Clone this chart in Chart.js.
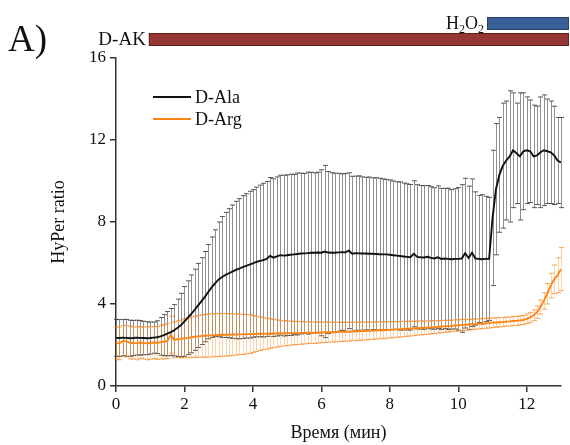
<!DOCTYPE html>
<html>
<head>
<meta charset="utf-8">
<script src="https://cdn.jsdelivr.net/npm/chart.js@4.4.1/dist/chart.umd.min.js"></script>
<style>
  html, body { margin: 0; padding: 0; background: #fff; }
  #wrap { width: 570px; height: 445px; }
</style>
</head>
<body>
<div id="wrap"><canvas id="chart" width="570" height="445"></canvas></div>
<script>
// sampling every 0.1 min, 0 .. 13 min
const sampleStep = 0.1;

const seriesNames = ["D-Ala", "D-Arg"];

const alaMean = [
  2.35, 2.34, 2.36, 2.35, 2.33, 2.34, 2.36, 2.35, 2.34, 2.33,
  2.34, 2.36, 2.38, 2.42, 2.48, 2.55, 2.63, 2.72, 2.84, 2.97,
  3.15, 3.33, 3.52, 3.72, 3.93, 4.14, 4.36, 4.60, 4.82, 5.02,
  5.20, 5.32, 5.42, 5.50, 5.58, 5.66, 5.72, 5.80, 5.86, 5.92,
  5.98, 6.05, 6.10, 6.14, 6.20, 6.35, 6.26, 6.32, 6.38, 6.36,
  6.38, 6.40, 6.42, 6.44, 6.46, 6.47, 6.48, 6.50, 6.50, 6.51,
  6.50, 6.56, 6.51, 6.50, 6.50, 6.52, 6.53, 6.52, 6.60, 6.45,
  6.48, 6.47, 6.46, 6.46, 6.45, 6.45, 6.44, 6.43, 6.42, 6.42,
  6.40, 6.38, 6.36, 6.34, 6.32, 6.30, 6.28, 6.45, 6.30, 6.28,
  6.27, 6.30, 6.25, 6.22, 6.28, 6.20, 6.22, 6.20, 6.18, 6.20,
  6.20, 6.22, 6.48, 6.25, 6.50, 6.22, 6.20, 6.18, 6.20, 6.20,
  8.20, 9.60, 10.30, 10.75, 11.00, 11.20, 11.50, 11.35, 11.20, 11.45,
  11.50, 11.45, 11.20, 11.25, 11.40, 11.50, 11.45, 11.40, 11.25, 11.00, 10.90
];

const alaErr = [
  0.90, 0.90, 0.88, 0.90, 0.88, 0.86, 0.85, 0.84, 0.82, 0.80,
  0.78, 0.76, 0.80, 0.92, 1.00, 1.08, 1.15, 1.25, 1.40, 1.55,
  1.70, 1.80, 1.90, 1.98, 2.05, 2.12, 2.20, 2.30, 2.45, 2.60,
  2.80, 2.95, 3.05, 3.15, 3.25, 3.35, 3.42, 3.48, 3.52, 3.58,
  3.60, 3.65, 3.70, 3.75, 3.78, 3.82, 3.85, 3.88, 3.90, 3.92,
  3.92, 3.93, 3.90, 3.95, 3.92, 3.90, 3.95, 3.92, 3.90, 3.92,
  4.05, 4.20, 3.95, 3.90, 3.88, 3.85, 3.82, 3.85, 3.80, 3.78,
  3.76, 3.78, 3.74, 3.72, 3.74, 3.70, 3.72, 3.70, 3.68, 3.66,
  3.65, 3.62, 3.60, 3.62, 3.58, 3.56, 3.55, 3.56, 3.52, 3.50,
  3.50, 3.48, 3.47, 3.45, 3.48, 3.44, 3.42, 3.45, 3.40, 3.42,
  3.48, 3.60, 3.65, 3.50, 3.60, 3.25, 3.10, 3.15, 3.05, 3.00,
  3.30, 3.20, 2.80, 3.05, 2.90, 3.20, 2.80, 2.45, 3.10, 2.85,
  2.60, 2.50, 2.50, 2.40, 2.70, 2.70, 2.55, 2.50, 2.40, 2.10, 2.20
];

const argMean = [
  2.10, 2.08, 2.20, 2.18, 2.12, 2.10, 2.08, 2.12, 2.10, 2.08,
  2.10, 2.12, 2.10, 2.14, 2.16, 2.20, 2.50, 2.25, 2.28, 2.30,
  2.33, 2.35, 2.38, 2.40, 2.42, 2.44, 2.45, 2.46, 2.47, 2.48,
  2.49, 2.50, 2.50, 2.50, 2.51, 2.51, 2.52, 2.52, 2.53, 2.53,
  2.54, 2.54, 2.55, 2.55, 2.55, 2.56, 2.56, 2.56, 2.57, 2.57,
  2.57, 2.58, 2.58, 2.58, 2.59, 2.59, 2.60, 2.60, 2.60, 2.61,
  2.61, 2.62, 2.62, 2.63, 2.63, 2.64, 2.64, 2.65, 2.65, 2.66,
  2.66, 2.67, 2.68, 2.68, 2.69, 2.70, 2.71, 2.72, 2.72, 2.73,
  2.74, 2.75, 2.76, 2.77, 2.78, 2.79, 2.80, 2.81, 2.82, 2.83,
  2.84, 2.85, 2.86, 2.87, 2.88, 2.90, 2.91, 2.92, 2.93, 2.95,
  2.96, 2.97, 2.98, 3.00, 3.01, 3.02, 3.03, 3.05, 3.06, 3.07,
  3.09, 3.10, 3.11, 3.12, 3.14, 3.15, 3.17, 3.18, 3.20, 3.22,
  3.28, 3.35, 3.45, 3.60, 3.85, 4.15, 4.50, 4.90, 5.20, 5.40, 5.70
];

const argErr = [
  0.78, 0.80, 0.75, 0.76, 0.80, 0.78, 0.80, 0.77, 0.78, 0.80,
  0.79, 0.78, 0.80, 0.82, 0.84, 0.86, 0.90, 0.88, 0.90, 0.92,
  0.95, 0.97, 0.99, 1.00, 1.02, 1.03, 1.04, 1.05, 1.05, 1.05,
  1.05, 1.04, 1.04, 1.03, 1.02, 1.00, 0.99, 0.98, 0.96, 0.95,
  0.90, 0.86, 0.82, 0.78, 0.75, 0.72, 0.69, 0.66, 0.63, 0.61,
  0.60, 0.58, 0.57, 0.56, 0.55, 0.54, 0.53, 0.52, 0.52, 0.51,
  0.50, 0.50, 0.49, 0.48, 0.48, 0.47, 0.47, 0.46, 0.46, 0.45,
  0.45, 0.44, 0.44, 0.43, 0.43, 0.42, 0.42, 0.41, 0.41, 0.40,
  0.40, 0.39, 0.38, 0.38, 0.37, 0.36, 0.36, 0.35, 0.34, 0.34,
  0.33, 0.32, 0.32, 0.31, 0.30, 0.30, 0.29, 0.29, 0.28, 0.28,
  0.27, 0.27, 0.26, 0.26, 0.25, 0.25, 0.25, 0.24, 0.24, 0.24,
  0.23, 0.23, 0.23, 0.22, 0.22, 0.22, 0.22, 0.22, 0.22, 0.22,
  0.23, 0.24, 0.26, 0.30, 0.34, 0.40, 0.50, 0.60, 0.70, 0.85, 1.05
];

const xTicks = [0, 2, 4, 6, 8, 10, 12];
const yTicks = [0, 4, 8, 12, 16];

// treatment bars above the plot (minutes)
const treatNames = ["D-AK", "H2O2"];
const treatStart = [0.96, 10.84];
const treatEnd = [13.23, 13.23];

const serif = "'Liberation Serif', 'Times New Roman', serif";

function toPoints(vals) {
  return vals.map((v, i) => ({ x: +(i * sampleStep).toFixed(2), y: v }));
}

// error bars drawn through the chart scales
const errorBars = {
  id: "errorBars",
  beforeDatasetsDraw(chart) {
    const ctx = chart.ctx;
    const xs = chart.scales.x, ys = chart.scales.y;
    chart.data.datasets.forEach((ds) => {
      ctx.save();
      ctx.lineWidth = 1;
      ds.data.forEach((p, i) => {
        const e = ds.errors[i];
        const px = Math.round(xs.getPixelForValue(p.x)) + 0.5;
        const top = ys.getPixelForValue(p.y + e);
        const bot = ys.getPixelForValue(p.y - e);
        ctx.strokeStyle = ds.errColor;
        ctx.beginPath();
        ctx.moveTo(px, top);
        ctx.lineTo(px, bot);
        ctx.stroke();
        ctx.strokeStyle = ds.capColor;
        ctx.beginPath();
        ctx.moveTo(px - 2.5, top);
        ctx.lineTo(px + 2.5, top);
        ctx.moveTo(px - 2.5, bot);
        ctx.lineTo(px + 2.5, bot);
        ctx.stroke();
      });
      ctx.restore();
    });
  }
};

const decorations = {
  id: "decorations",
  afterDraw(chart) {
    const ctx = chart.ctx;
    const area = chart.chartArea;
    const xs = chart.scales.x;
    ctx.save();

    // panel letter
    ctx.fillStyle = "#111";
    ctx.font = "37px " + serif;
    ctx.textBaseline = "alphabetic";
    ctx.textAlign = "left";
    ctx.fillText("A)", 8, 51);

    // treatment bars
    const barFill = ["#953735", "#3b6097"];
    const barEdge = ["#5e1e1d", "#233f6a"];
    const barTop = [area.top - 25, area.top - 41];
    treatNames.forEach((name, k) => {
      const x0 = xs.getPixelForValue(treatStart[k]);
      const x1 = xs.getPixelForValue(treatEnd[k]);
      ctx.fillStyle = barFill[k];
      ctx.fillRect(x0, barTop[k], x1 - x0, 13);
      ctx.strokeStyle = barEdge[k];
      ctx.lineWidth = 1;
      ctx.strokeRect(x0 + 0.5, barTop[k] + 0.5, x1 - x0 - 1, 12);

      ctx.fillStyle = "#111";
      ctx.textBaseline = "alphabetic";
      const base = barTop[k] + 12;
      if (name === "H2O2") {
        const big = "18px " + serif, small = "12px " + serif;
        const parts = [["H", big, 0], ["2", small, 4], ["O", big, 0], ["2", small, 4]];
        let w = 0;
        parts.forEach(([t, f]) => { ctx.font = f; w += ctx.measureText(t).width; });
        let cx = x0 - 3 - w;
        ctx.textAlign = "left";
        parts.forEach(([t, f, dy]) => {
          ctx.font = f;
          ctx.fillText(t, cx, base + dy);
          cx += ctx.measureText(t).width;
        });
      } else {
        ctx.font = "19px " + serif;
        ctx.textAlign = "right";
        ctx.fillText(name, x0 - 3, base);
      }
    });

    // legend
    chart.data.datasets.forEach((ds, k) => {
      const ly = area.top + 39 + k * 22;
      ctx.strokeStyle = ds.borderColor;
      ctx.lineWidth = 2;
      ctx.beginPath();
      ctx.moveTo(area.left + 37, ly);
      ctx.lineTo(area.left + 75, ly);
      ctx.stroke();
      ctx.fillStyle = "#111";
      ctx.font = "18px " + serif;
      ctx.textAlign = "left";
      ctx.textBaseline = "middle";
      ctx.fillText(ds.label, area.left + 79, ly + 1);
    });
    ctx.restore();
  }
};

const axisColor = "#333";
const tickFont = { family: serif, size: 17 };
const titleFont = { family: serif, size: 18 };

new Chart(document.getElementById("chart"), {
  type: "line",
  data: {
    datasets: [
      {
        label: seriesNames[0],
        data: toPoints(alaMean),
        errors: alaErr,
        errColor: "rgba(105,105,105,0.75)",
        capColor: "rgba(70,70,70,0.9)",
        borderColor: "#111",
        borderWidth: 1.9,
        pointRadius: 0,
        tension: 0
      },
      {
        label: seriesNames[1],
        data: toPoints(argMean),
        errors: argErr,
        errColor: "rgba(255,150,50,0.42)",
        capColor: "rgba(250,140,40,0.8)",
        borderColor: "#ff8614",
        borderWidth: 1.9,
        pointRadius: 0,
        tension: 0
      }
    ]
  },
  options: {
    responsive: false,
    animation: false,
    events: [],
    layout: { padding: { left: 44, right: 9, top: 58, bottom: 0 } },
    plugins: { legend: { display: false }, tooltip: { enabled: false } },
    scales: {
      x: {
        type: "linear",
        min: 0,
        max: 13,
        afterBuildTicks: (s) => { s.ticks = xTicks.map((v) => ({ value: v })); },
        afterFit: (s) => { s.height = 59; },
        grid: { drawOnChartArea: false, drawTicks: true, tickLength: 6, color: axisColor, lineWidth: 1.5 },
        border: { color: axisColor, width: 1.5 },
        ticks: { color: "#111", font: tickFont, padding: 2, maxRotation: 0 },
        title: { display: true, text: "Время (мин)", color: "#111", font: titleFont, padding: { top: 0, bottom: 1 } }
      },
      y: {
        min: 0,
        max: 16,
        afterBuildTicks: (s) => { s.ticks = yTicks.map((v) => ({ value: v })); },
        afterFit: (s) => { s.width = 72; },
        grid: { drawOnChartArea: false, drawTicks: true, tickLength: 6, color: axisColor, lineWidth: 1.5 },
        border: { color: axisColor, width: 1.5 },
        ticks: { color: "#111", font: tickFont, padding: 4 },
        title: { display: true, text: "HyPer ratio", color: "#111", font: titleFont, padding: { top: 4, bottom: 4 } }
      }
    }
  },
  plugins: [errorBars, decorations]
});
</script>
</body>
</html>
